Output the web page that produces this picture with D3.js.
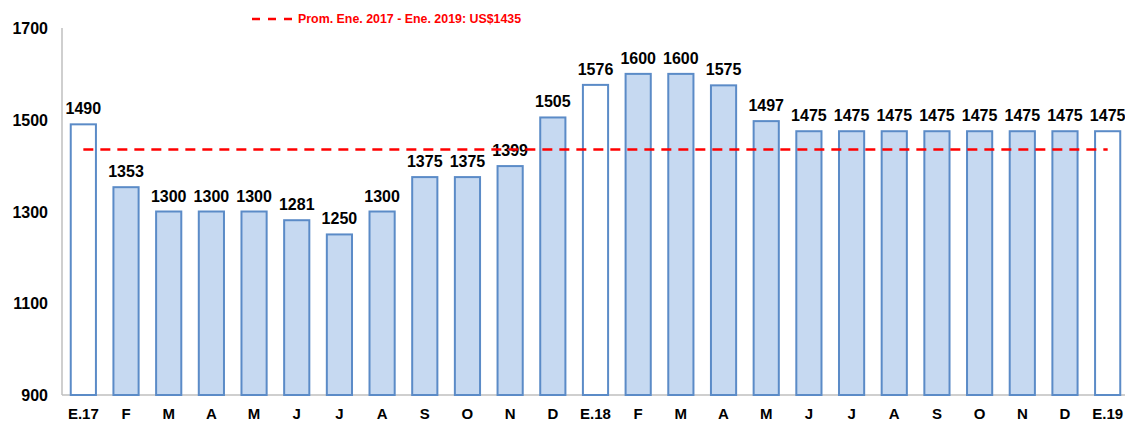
<!DOCTYPE html>
<html>
<head>
<meta charset="utf-8">
<script src="https://cdn.jsdelivr.net/npm/d3@7"></script>
<style>
  body { margin: 0; background: #fff; }
  svg { display: block; font-family: "Liberation Sans", Arial, sans-serif; }
</style>
</head>
<body>
<div id="chart"></div>
<script>
const months = ['E.17', 'F', 'M', 'A', 'M', 'J', 'J', 'A', 'S', 'O', 'N', 'D',
    'E.18', 'F', 'M', 'A', 'M', 'J', 'J', 'A', 'S', 'O', 'N', 'D', 'E.19'];
const prices = [1490, 1353, 1300, 1300, 1300, 1281, 1250, 1300, 1375, 1375, 1399, 1505,
    1576, 1600, 1600, 1575, 1497, 1475, 1475, 1475, 1475, 1475, 1475, 1475, 1475];
const yTicks = [900, 1100, 1300, 1500, 1700];
const average = 1435;
const legendLabel = 'Prom. Ene. 2017 - Ene. 2019: US$1435';

const W = 1125, H = 423;
const plotL = 62, plotR = 1129, plotT = 28, plotB = 395;

const svg = d3.select('#chart').append('svg')
    .attr('width', W).attr('height', H);

const data = months.map((m, i) => ({ key: i, label: m, value: prices[i] }));

const x = d3.scaleBand().domain(data.map((d) => d.key)).range([plotL, plotR]).paddingInner(0.41).paddingOuter(0.205);
const y = d3.scaleLinear().domain([900, 1700]).range([plotB, plotT]);

// axes lines
svg.append('line').attr('x1', plotL).attr('x2', plotL).attr('y1', plotT).attr('y2', plotB)
    .attr('stroke', '#bfbfbf').attr('stroke-width', 1.5);
svg.append('line').attr('x1', plotL).attr('x2', W).attr('y1', plotB).attr('y2', plotB)
    .attr('stroke', '#bfbfbf').attr('stroke-width', 1.5);

// y tick labels
svg.append('g').selectAll('text').data(yTicks).enter().append('text')
    .attr('x', 48).attr('y', (d) => y(d) + 6)
    .attr('text-anchor', 'end')
    .style('font-size', '16px').style('font-weight', 'bold').attr('fill', '#000')
    .text((d) => d);

// x labels
svg.append('g').selectAll('text').data(data).enter().append('text')
    .attr('x', (d) => x(d.key) + x.bandwidth() / 2).attr('y', 419)
    .attr('text-anchor', 'middle')
    .style('font-size', '15px').style('font-weight', 'bold').attr('fill', '#000')
    .text((d) => d.label);

// bars (January bars are white)
svg.append('g').selectAll('rect').data(data).enter().append('rect')
    .attr('x', (d) => x(d.key)).attr('width', x.bandwidth())
    .attr('y', (d) => y(d.value)).attr('height', (d) => plotB - y(d.value))
    .attr('fill', (d) => d.label.startsWith('E.') ? '#ffffff' : '#c6d9f1')
    .attr('stroke', '#5b8bc7').attr('stroke-width', 2);

// value labels
svg.append('g').selectAll('text').data(data).enter().append('text')
    .attr('x', (d) => x(d.key) + x.bandwidth() / 2).attr('y', (d) => y(d.value) - 10)
    .attr('text-anchor', 'middle')
    .style('font-size', '16px').style('font-weight', 'bold').attr('fill', '#000')
    .text((d) => d.value);

// average line
const first = data[0], last = data[data.length - 1];
svg.append('line')
    .attr('x1', x(first.key) + x.bandwidth() / 2).attr('x2', x(last.key) + x.bandwidth() / 2)
    .attr('y1', y(average)).attr('y2', y(average))
    .attr('stroke', '#ff0000').attr('stroke-width', 2.5).attr('stroke-dasharray', '10,7');

// legend
svg.append('line').attr('x1', 252).attr('x2', 294).attr('y1', 19).attr('y2', 19)
    .attr('stroke', '#ff0000').attr('stroke-width', 2.5).attr('stroke-dasharray', '8,8');
svg.append('text').attr('x', 298).attr('y', 23)
    .style('font-size', '12.4px').style('font-weight', 'bold').attr('fill', '#ff0000')
    .text(legendLabel);
</script>
</body>
</html>
